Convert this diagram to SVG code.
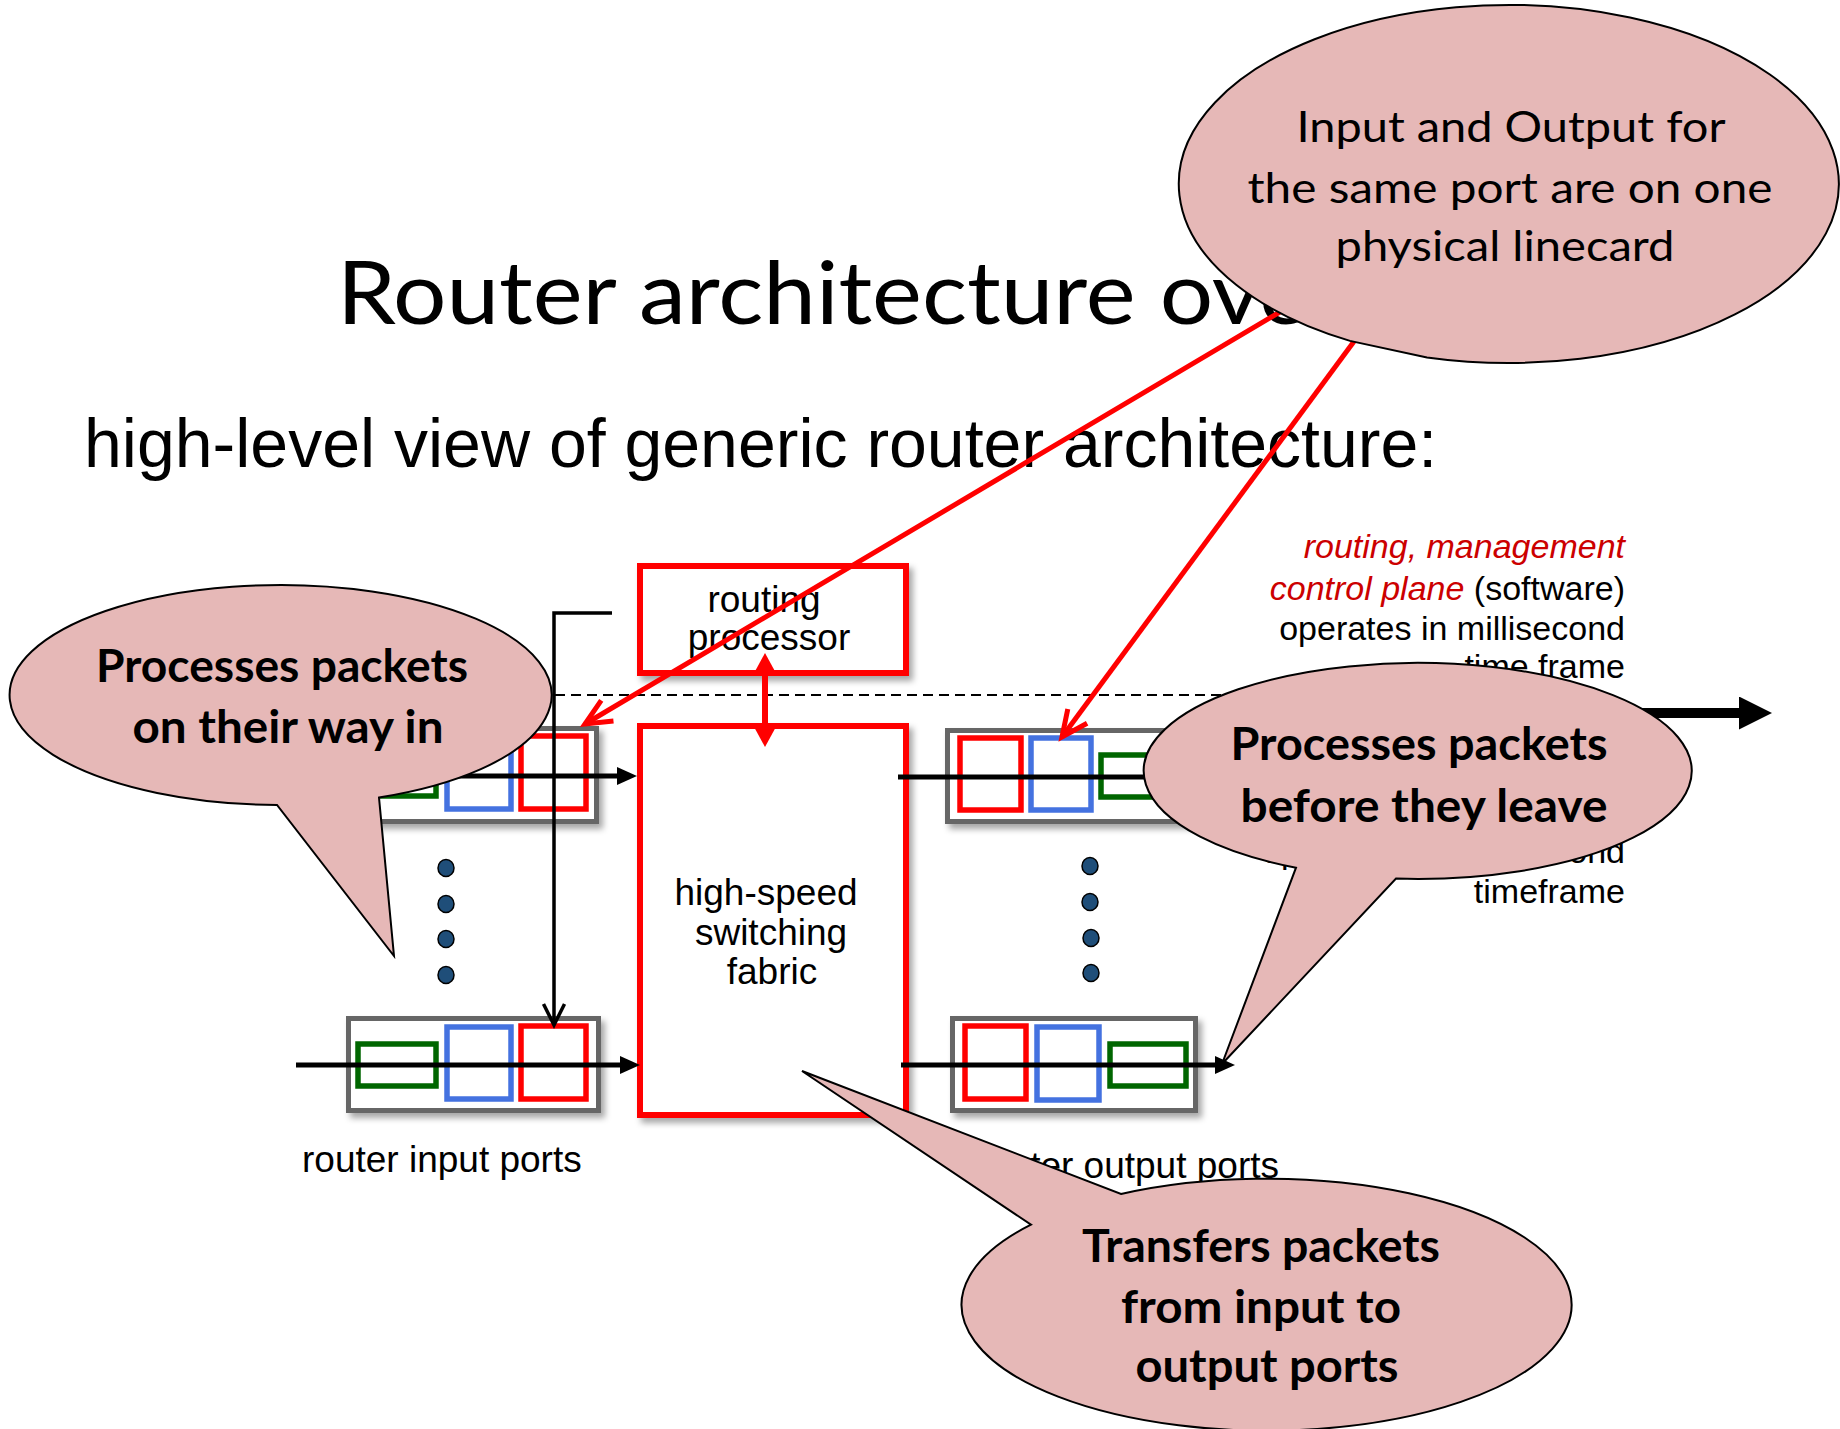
<svg xmlns="http://www.w3.org/2000/svg" width="1840" height="1429" viewBox="0 0 1840 1429">
<defs>
<style>
.lbl{font-family:"Liberation Sans",Arial,sans-serif;font-size:37px;fill:#000}
.side{font-family:"Liberation Sans",Arial,sans-serif;font-size:34px;fill:#000;text-anchor:end}
.ctl{fill:#cc0000;font-style:italic}
.port{fill:#fff;stroke:#666;stroke-width:5}
.rbox{fill:#fff;stroke:#ff0000;stroke-width:6}
.q{fill:none;stroke-width:5.5}
.qr{stroke:#ff0000}.qb{stroke:#4472e0}.qg{stroke:#006600}
.dot{fill:#1f4e79;stroke:#000;stroke-width:1.5}
.flow{stroke:#000;stroke-width:5;fill:none;marker-end:url(#ah)}
.callout{fill:#e6b8b7;stroke:#000;stroke-width:2}
.ct{font-family:Lato,"Open Sans",sans-serif;font-weight:700;font-size:45px;text-anchor:middle;fill:#000}
.ctn{font-family:Lato,"Open Sans",sans-serif;font-weight:400;font-size:43px;text-anchor:middle;fill:#000}
.redln{stroke:#ff0000;stroke-width:5;fill:none;marker-end:url(#vRed)}
</style>
<filter id="sh" x="-10%" y="-10%" width="130%" height="130%">
<feDropShadow dx="4" dy="5" stdDeviation="3" flood-color="#000" flood-opacity="0.35"/>
</filter>
<marker id="ah" markerUnits="userSpaceOnUse" viewBox="0 0 20 18" markerWidth="20" markerHeight="18" refX="8" refY="9" orient="auto">
<path d="M0,0 L20,9 L0,18 z" fill="#000"/>
</marker>
<marker id="ahThick" markerUnits="userSpaceOnUse" viewBox="0 0 33 33" markerWidth="33" markerHeight="33" refX="13" refY="16.5" orient="auto">
<path d="M0,0 L33,16.5 L0,33 z" fill="#000"/>
</marker>
<marker id="ahRed" markerUnits="userSpaceOnUse" viewBox="0 0 22 24" markerWidth="22" markerHeight="24" refX="10" refY="12" orient="auto-start-reverse">
<path d="M0,0 L22,12 L0,24 z" fill="#ff0000"/>
</marker>
<marker id="vRed" markerUnits="userSpaceOnUse" viewBox="-32 -18 38 36" markerWidth="38" markerHeight="36" refX="0" refY="0" orient="auto">
<path d="M-26,-12 L0,0 L-26,12" fill="none" stroke="#ff0000" stroke-width="5"/>
</marker>
<marker id="vBlack" markerUnits="userSpaceOnUse" viewBox="-26 -14 30 28" markerWidth="30" markerHeight="28" refX="0" refY="0" orient="auto">
<path d="M-21,-10.5 L0,0 L-21,10.5" fill="none" stroke="#000" stroke-width="3.5"/>
</marker>
</defs>

<rect x="0" y="0" width="1840" height="1429" fill="#fff"/>

<g id="title">
<text x="337" y="324" font-family="Lato,'Open Sans',sans-serif" font-size="88" textLength="972" lengthAdjust="spacingAndGlyphs">Router architecture ove</text>
</g>
<g id="subtitle">
<text x="84" y="467" font-family="'Liberation Sans',Arial,sans-serif" font-size="68">high-level view of generic router architecture:</text>
</g>

<g id="plane-labels">
<text class="side" x="1625" y="558"><tspan class="ctl">routing, management</tspan></text>
<text class="side" x="1625" y="600"><tspan class="ctl">control plane</tspan> (software)</text>
<text class="side" x="1625" y="640">operates in millisecond</text>
<text class="side" x="1625" y="678">time frame</text>
<text class="side" x="1625" y="863">operates in nanosecond</text>
<text class="side" x="1625" y="903">timeframe</text>
</g>

<g id="routing-processor">
<rect class="rbox" x="640" y="566" width="266" height="107" filter="url(#sh)"/>
<text class="lbl" x="764" y="612" text-anchor="middle">routing</text>
<text class="lbl" x="769" y="650" text-anchor="middle">processor</text>
</g>

<g id="switching-fabric">
<rect class="rbox" x="640" y="726" width="266" height="389" filter="url(#sh)"/>
<text class="lbl" x="766" y="905" text-anchor="middle">high-speed</text>
<text class="lbl" x="771" y="945" text-anchor="middle">switching</text>
<text class="lbl" x="772" y="984" text-anchor="middle">fabric</text>
</g>

<g id="input-port-1">
<rect class="port" x="348.5" y="728.5" width="248" height="93" filter="url(#sh)"/>
<rect class="q qg" x="358" y="754" width="78" height="42"/>
<rect class="q qb" x="447" y="737" width="64" height="72"/>
<rect class="q qr" x="521" y="736" width="65" height="73"/>
</g>

<g id="input-port-2">
<rect class="port" x="348.5" y="1018.5" width="250" height="92" filter="url(#sh)"/>
<rect class="q qg" x="358" y="1044" width="78" height="42"/>
<rect class="q qb" x="447" y="1027" width="64" height="72"/>
<rect class="q qr" x="521" y="1026" width="65" height="73"/>
</g>

<g id="output-port-1">
<rect class="port" x="947.5" y="730.5" width="243" height="91" filter="url(#sh)"/>
<rect class="q qr" x="960" y="738" width="61" height="72"/>
<rect class="q qb" x="1031" y="738" width="60" height="72"/>
<rect class="q qg" x="1101" y="755" width="76" height="42"/>
</g>

<g id="output-port-2">
<rect class="port" x="952.5" y="1018.5" width="243" height="92" filter="url(#sh)"/>
<rect class="q qr" x="965" y="1026" width="61" height="73"/>
<rect class="q qb" x="1037" y="1027" width="62" height="73"/>
<rect class="q qg" x="1110" y="1044" width="76" height="42"/>
</g>

<g id="port-dots">
<ellipse class="dot" cx="446" cy="868" rx="8" ry="8.5"/>
<ellipse class="dot" cx="446" cy="904" rx="8" ry="8.5"/>
<ellipse class="dot" cx="446" cy="939" rx="8" ry="8.5"/>
<ellipse class="dot" cx="446" cy="975" rx="8" ry="8.5"/>
<ellipse class="dot" cx="1090" cy="866" rx="8" ry="8.5"/>
<ellipse class="dot" cx="1090" cy="902" rx="8" ry="8.5"/>
<ellipse class="dot" cx="1091" cy="938" rx="8" ry="8.5"/>
<ellipse class="dot" cx="1091" cy="973" rx="8" ry="8.5"/>
</g>

<g id="port-labels">
<text class="lbl" x="302" y="1172">router input ports</text>
<text class="lbl" x="1279" y="1178" text-anchor="end">router output ports</text>
</g>

<g id="connectors">
<line x1="555" y1="695" x2="1560" y2="695" stroke="#000" stroke-width="2" stroke-dasharray="10 6"/>
<path class="flow" d="M297,776 H625"/>
<path class="flow" d="M296,1065 H628"/>
<path class="flow" d="M898,777 H1223"/>
<path class="flow" d="M901,1065 H1223"/>
<path d="M612,613 H554 V1025" fill="none" stroke="#000" stroke-width="3.5" marker-end="url(#vBlack)"/>
<path d="M765,665 V735" fill="none" stroke="#ff0000" stroke-width="6" marker-start="url(#ahRed)" marker-end="url(#ahRed)"/>
<path d="M1560,713 H1752" fill="none" stroke="#000" stroke-width="10" marker-end="url(#ahThick)"/>
<path class="redln" d="M1290,306 L585,724"/>
<path class="redln" d="M1358,336 L1062,737"/>
</g>

<g id="callout-linecard">
<path class="callout" d="M1427,357.4 A330,179 0 1 0 1350,340.9 Z"/>
<text class="ctn" x="1511" y="142" textLength="429" lengthAdjust="spacingAndGlyphs">Input and Output for</text>
<text class="ctn" x="1510" y="203" textLength="525" lengthAdjust="spacingAndGlyphs">the same port are on one</text>
<text class="ctn" x="1505" y="261" textLength="339" lengthAdjust="spacingAndGlyphs">physical linecard</text>
</g>

<g id="callout-input">
<path class="callout" d="M379,797.5 A271,110 0 1 0 277,805 L394,956 Z"/>
<text class="ct" x="282" y="682" textLength="372" lengthAdjust="spacingAndGlyphs">Processes packets</text>
<text class="ct" x="288" y="743" textLength="311" lengthAdjust="spacingAndGlyphs">on their way in</text>
</g>

<g id="callout-output">
<path class="callout" d="M1396,878.6 A274,108 0 1 0 1296,867.7 L1222,1064 Z"/>
<text class="ct" x="1419" y="760" textLength="377" lengthAdjust="spacingAndGlyphs">Processes packets</text>
<text class="ct" x="1424" y="822" textLength="367" lengthAdjust="spacingAndGlyphs">before they leave</text>
</g>

<g id="callout-fabric">
<path class="callout" d="M1121,1194 A305,126 0 1 1 1031,1224.7 L802,1071 Z"/>
<text class="ct" x="1261" y="1262" textLength="358" lengthAdjust="spacingAndGlyphs">Transfers packets</text>
<text class="ct" x="1261" y="1323" textLength="280" lengthAdjust="spacingAndGlyphs">from input to</text>
<text class="ct" x="1267" y="1382" textLength="263" lengthAdjust="spacingAndGlyphs">output ports</text>
</g>
</svg>
